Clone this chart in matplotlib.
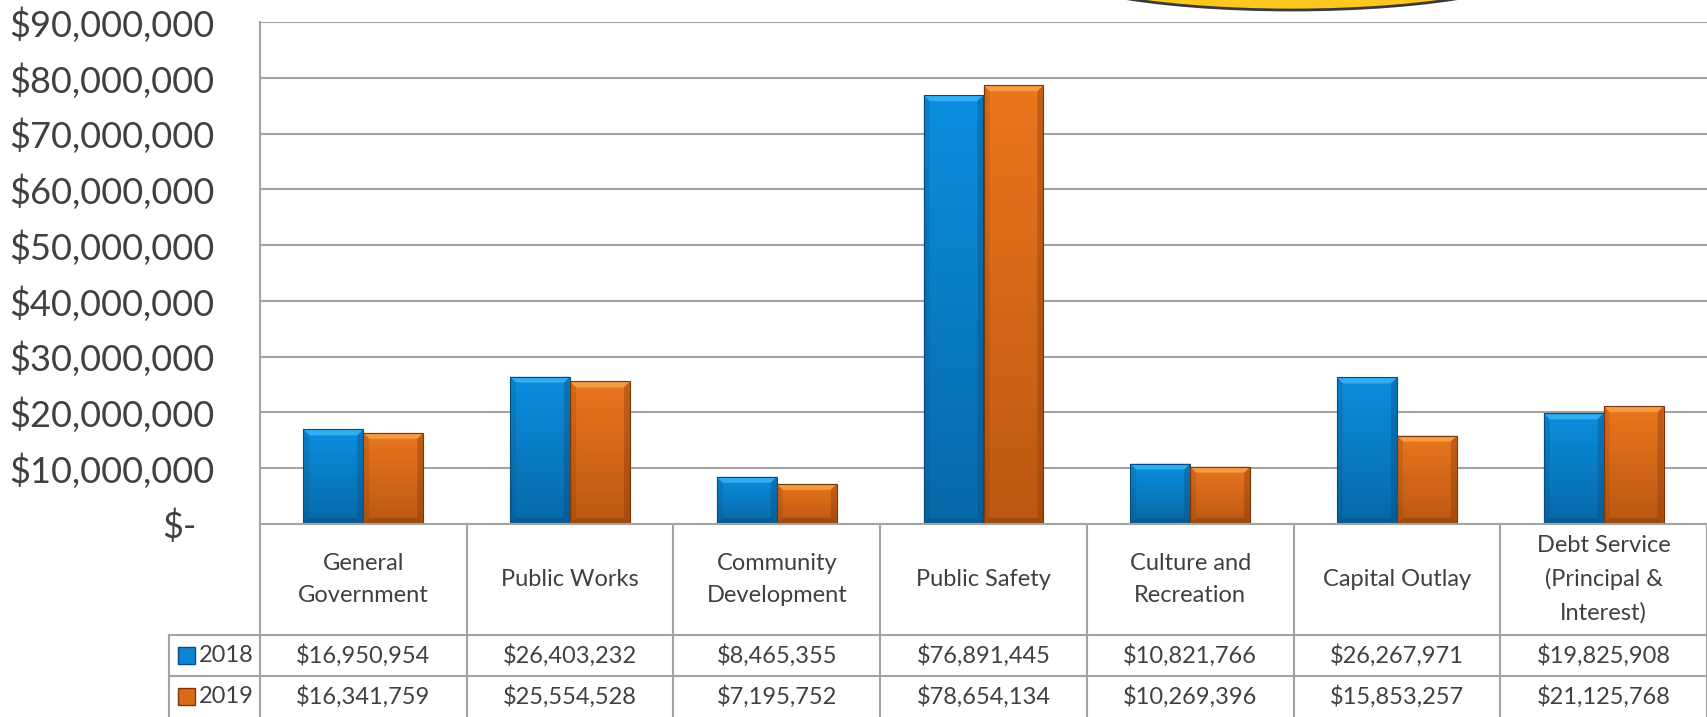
import numpy as np
import matplotlib
matplotlib.use('Agg')
import matplotlib.pyplot as plt
from matplotlib.patches import Rectangle, Polygon, Ellipse
from matplotlib.colors import LinearSegmentedColormap
from matplotlib.transforms import ScaledTranslation

# data
categories = ['General\nGovernment', 'Public Works', 'Community\nDevelopment', 'Public Safety',
              'Culture and\nRecreation', 'Capital Outlay', 'Debt Service\n(Principal &\nInterest)']
years = ['2018', '2019']
spend_2018 = [16950954, 26403232, 8465355, 76891445, 10821766, 26267971, 19825908]
spend_2019 = [16341759, 25554528, 7195752, 78654134, 10269396, 15853257, 21125768]
y_ticks = [0, 10e6, 20e6, 30e6, 40e6, 50e6, 60e6, 70e6, 80e6, 90e6]

plt.rcParams['font.family'] = ['Lato', 'DejaVu Sans']
TEXT = '#404040'
GRID = '#A3A3A3'

# layout in pixels of the 1707x717 picture
W, H = 1707, 717
ax_left, ax_right, ax_top, ax_bottom = 260, 1707, 22, 524
row1, row2, leg_left = 635, 676, 169
n = len(categories)
colw = (ax_right - ax_left) / n

fig = plt.figure(figsize=(W / 100, H / 100), dpi=100)
ax = fig.add_axes([ax_left / W, 1 - ax_bottom / H, (ax_right - ax_left) / W, (ax_bottom - ax_top) / H])

x = np.arange(n)
bw = 0.29
bars18 = ax.bar(x - bw / 2, spend_2018, bw, color='#0A84D2', zorder=2)
bars19 = ax.bar(x + bw / 2, spend_2019, bw, color='#E2701A', zorder=2)

ax.set_xlim(-0.5, n - 0.5)
ax.set_ylim(0, 90e6)

# pixel size in data units, for the bevel
px_x = 1 / colw
px_y = 90e6 / (ax_bottom - ax_top)


def shade(bar, top, bottom, light, dark):
    x0, y0 = bar.get_x(), bar.get_y()
    w, h = bar.get_width(), bar.get_height()
    x1, y1 = x0 + w, y0 + h
    cmap = LinearSegmentedColormap.from_list('g', [top, bottom])
    grad = np.linspace(0, 1, 64)[:, None]
    im = ax.imshow(grad, extent=(x0, x1, y0, y1), aspect='auto', cmap=cmap, zorder=2.1)
    im.set_clip_path(bar)
    bx, by = 6 * px_x, 6 * px_y
    ax.add_patch(Polygon([(x0, y1), (x1, y1), (x1 - bx, y1 - by), (x0 + bx, y1 - by)],
                         fc=light, ec='none', alpha=0.85, zorder=2.2))
    ax.add_patch(Polygon([(x0, y0), (x0, y1), (x0 + bx, y1 - by), (x0 + bx, y0 + by)],
                         fc=dark, ec='none', alpha=0.2, zorder=2.2))
    ax.add_patch(Polygon([(x1, y0), (x1, y1), (x1 - bx, y1 - by), (x1 - bx, y0 + by)],
                         fc=dark, ec='none', alpha=0.35, zorder=2.2))
    ax.add_patch(Polygon([(x0, y0), (x1, y0), (x1 - bx, y0 + by), (x0 + bx, y0 + by)],
                         fc=dark, ec='none', alpha=0.45, zorder=2.2))
    ax.add_patch(Rectangle((x0, y0), w, h, fc='none', ec=dark, lw=0.8, zorder=2.3))


for b in bars18:
    shade(b, '#0B8EDF', '#0769A8', '#3BB2F5', '#084A78')
for b in bars19:
    shade(b, '#EA761E', '#BC5812', '#F8A24A', '#7A360A')

ax.set_yticks(y_ticks)
ax.set_yticklabels(['${:,.0f}'.format(v) if v else '$-' for v in y_ticks])
ax.tick_params(axis='y', length=0, pad=33, labelsize=26, labelcolor=TEXT)
ax.set_xticks([])
ax.yaxis.grid(True, color=GRID, lw=1.5)
ax.set_axisbelow(True)
for s in ['top', 'right']:
    ax.spines[s].set_visible(False)
for s in ['left', 'bottom']:
    ax.spines[s].set_color(GRID)
    ax.spines[s].set_linewidth(1.5)
zero_lab = ax.get_yticklabels()[0]
zero_lab.set_transform(zero_lab.get_transform() + ScaledTranslation(-0.18, 0, fig.dpi_scale_trans))

# data table under the chart
ov = fig.add_axes([0, 0, 1, 1])
ov.set_xlim(0, W)
ov.set_ylim(H, 0)
ov.axis('off')

for k in range(n + 1):
    xx = ax_left + k * colw
    ov.plot([xx, xx], [ax_bottom, H], color=GRID, lw=1.5)
for yy in [row1, row2]:
    ov.plot([leg_left, W], [yy, yy], color=GRID, lw=1.5)
ov.plot([leg_left, leg_left], [row1, H], color=GRID, lw=1.5)

for i, cat in enumerate(categories):
    cx = ax_left + (i + 0.5) * colw
    ov.text(cx, (ax_bottom + row1) / 2, cat, ha='center', va='center', fontsize=17,
            color=TEXT, linespacing=1.68)

rows = [(spend_2018, (row1 + row2) / 2, '#0B86D6', '#084A78'),
        (spend_2019, (row2 + H) / 2, '#DB6A18', '#7A360A')]
for yr, (vals, cy, fc, ec) in zip(years, rows):
    ov.add_patch(Rectangle((178, cy - 8.5), 17, 17, fc=fc, ec=ec, lw=1))
    ov.text(199, cy, yr, ha='left', va='center', fontsize=17, color=TEXT)
    for i, v in enumerate(vals):
        cx = ax_left + (i + 0.5) * colw
        ov.text(cx, cy, '${:,}'.format(v), ha='center', va='center', fontsize=17, color=TEXT)

# yellow callout shape cut off at the top
ov.add_patch(Ellipse((1292, -40), 522, 100, fc='#FFC820', ec='#3A3A3A', lw=2))

fig.savefig('out.png', dpi=100)
